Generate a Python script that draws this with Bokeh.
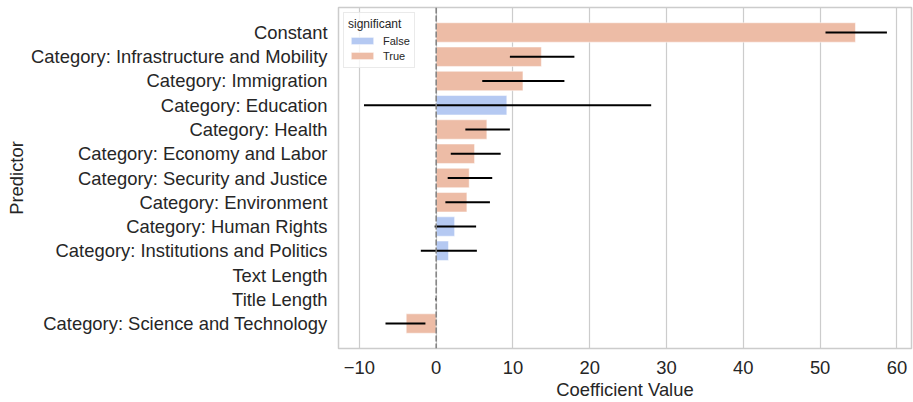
from bokeh.plotting import figure
from bokeh.models import (FactorRange, Range1d, Legend, LegendItem,
                          ColumnDataSource, Span, FixedTicker)
from bokeh.embed import file_html
from bokeh.resources import INLINE

predictors = [
    "Constant",
    "Category: Infrastructure and Mobility",
    "Category: Immigration",
    "Category: Education",
    "Category: Health",
    "Category: Economy and Labor",
    "Category: Security and Justice",
    "Category: Environment",
    "Category: Human Rights",
    "Category: Institutions and Politics",
    "Text Length",
    "Title Length",
    "Category: Science and Technology",
]
coefs = [54.6, 13.7, 11.3, 9.2, 6.6, 5.0, 4.3, 4.0, 2.4, 1.6, 0.0005, -0.01, -3.9]
ci_low = [50.7, 9.6, 6.0, -9.4, 3.8, 1.9, 1.5, 1.2, -0.2, -2.0, -0.0003, -0.12, -6.6]
ci_high = [58.7, 18.0, 16.7, 28.0, 9.6, 8.4, 7.3, 7.0, 5.2, 5.3, 0.0013, 0.10, -1.4]
significant = [True, True, True, False, True, True, True, True, False, False, True, True, True]
x_ticks = [-10, 0, 10, 20, 30, 40, 50, 60]

FONT = "Liberation Sans"
TXT = "#262626"
colors = {False: "#b5c9f2", True: "#edbca6"}

p = figure(width=913, height=402,
           y_range=FactorRange(factors=list(reversed(predictors)),
                               range_padding=0.53, range_padding_units="absolute"),
           x_range=Range1d(-12.72, 61.9),
           output_backend="svg", toolbar_location=None,
           min_border_left=338, min_border_right=2, min_border_top=7,
           min_border_bottom=53)

renderers = {}
for flag in (False, True):
    idx = [i for i, s in enumerate(significant) if s == flag]
    src = ColumnDataSource(dict(
        predictor=[predictors[i] for i in idx],
        coef=[coefs[i] for i in idx],
    ))
    renderers[flag] = p.hbar(y="predictor", left=0, right="coef", height=0.8,
                             source=src, fill_color=colors[flag],
                             line_color="white", line_width=0.5)

err_src = ColumnDataSource(dict(predictor=predictors, lo=ci_low, hi=ci_high))
p.segment(x0="lo", x1="hi", y0="predictor", y1="predictor", source=err_src,
          line_color="black", line_width=2.2)

p.add_layout(Span(location=0, dimension="height", line_color="#7f7f7f",
                  line_dash="6 2", line_width=1.5))

legend = Legend(items=[LegendItem(label="False", renderers=[renderers[False]]),
                       LegendItem(label="True", renderers=[renderers[True]])],
                location="top_left", title="significant")
legend.margin = 5
legend.padding = 4
legend.spacing = 0
legend.title_text_font = FONT
legend.title_text_font_size = "12px"
legend.title_text_font_style = "normal"
legend.title_text_color = TXT
legend.title_standoff = 2
legend.label_text_font = FONT
legend.label_text_font_size = "11px"
legend.label_text_color = TXT
legend.label_height = 15
legend.glyph_height = 9
legend.glyph_width = 28
legend.label_standoff = 7
legend.border_line_color = "#d6d6d6"
legend.border_line_width = 1
legend.background_fill_alpha = 0.8
p.add_layout(legend)

p.xaxis.ticker = FixedTicker(ticks=x_ticks)
p.xaxis.major_label_overrides = {t: (str(t).replace("-", "\u2212")) for t in x_ticks}
p.xaxis.axis_label = "Coefficient Value"
p.yaxis.axis_label = "Predictor"
for ax in (p.xaxis, p.yaxis):
    ax.axis_line_color = None
    ax.major_tick_line_color = None
    ax.minor_tick_line_color = None
    ax.major_tick_out = 0
    ax.major_tick_in = 0
    ax.major_label_text_font = FONT
    ax.major_label_text_font_size = "18.4px"
    ax.major_label_text_color = TXT
    ax.axis_label_text_font = FONT
    ax.axis_label_text_font_size = "18.4px"
    ax.axis_label_text_font_style = "normal"
    ax.axis_label_text_color = TXT
p.xaxis.major_label_standoff = 12
p.xaxis.axis_label_standoff = 2
p.yaxis.major_label_standoff = 11
p.yaxis.axis_label_standoff = 1

p.xgrid.grid_line_color = "#cccccc"
p.xgrid.grid_line_width = 1.2
p.ygrid.grid_line_color = None
p.outline_line_color = "#cccccc"
p.outline_line_width = 1.5
p.background_fill_color = "white"
p.border_fill_color = "white"

open("out.html", "w").write(file_html(p, INLINE))
